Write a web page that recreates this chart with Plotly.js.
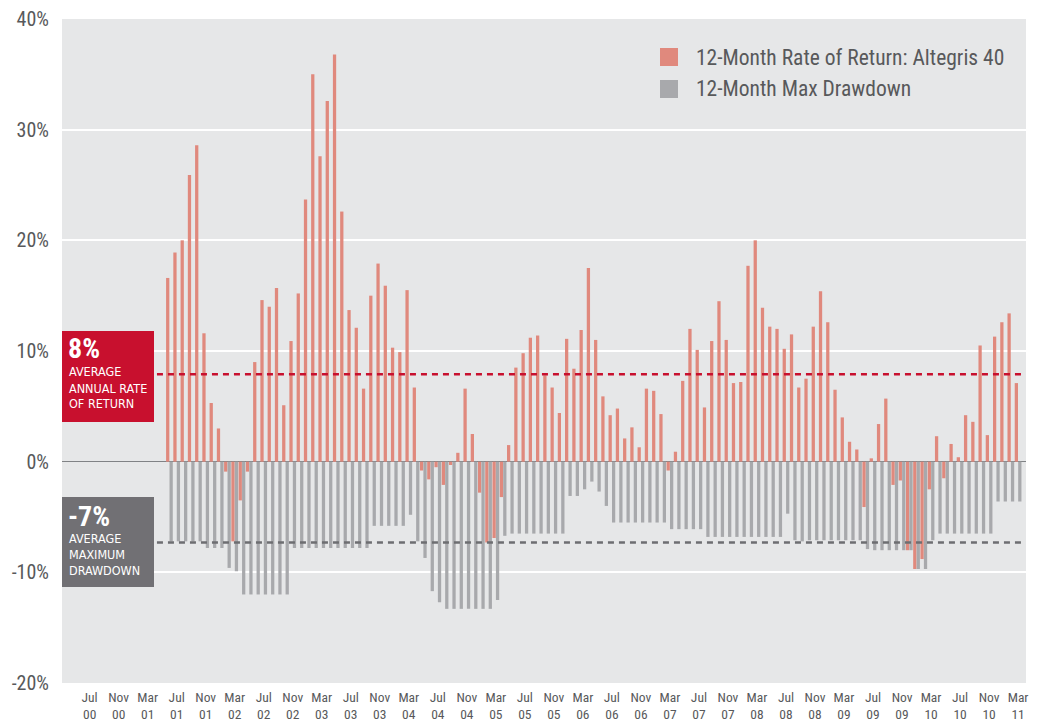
<!DOCTYPE html>
<html>
<head>
<meta charset="utf-8">
<script src="https://cdn.plot.ly/plotly-3.0.1.min.js"></script>
<style>
html,body{margin:0;padding:0;background:#ffffff;}
#chart{width:1038px;height:721px;}
</style>
</head>
<body>
<div id="chart"></div>
<script>
// 12-month values, one per month from Jun 01 to Mar 11
var firstMonthIndex = 11; // months after Jul 00
var returns12m = [
16.6,18.9,20.0,25.9,28.6,11.6,5.3,3.0,-0.9,-7.2,-3.5,-0.9,
9.0,14.6,14.0,15.7,5.1,10.9,15.2,23.7,35.0,27.6,32.6,36.8,
22.6,13.7,12.1,6.6,15.0,17.9,15.9,10.3,9.9,15.5,6.7,-0.8,
-1.6,-0.5,-2.1,-0.3,0.8,6.6,2.5,-2.8,-7.3,-6.9,-3.2,1.5,
8.5,9.8,11.2,11.4,7.8,6.7,4.4,11.1,8.4,11.9,17.5,11.0,
5.9,4.2,4.8,2.1,3.1,1.3,6.6,6.4,4.3,-0.8,0.9,7.3,
12.0,10.1,4.9,10.9,14.5,11.0,7.1,7.2,17.7,20.0,13.9,12.2,
12.0,10.2,11.5,6.7,7.5,12.2,15.4,12.6,6.5,4.0,1.8,1.1,
-4.1,0.3,3.4,5.7,-2.1,-1.7,-8.0,-9.7,-8.8,-2.5,2.3,-1.5,
1.6,0.4,4.2,3.6,10.5,2.4,11.3,12.6,13.4,7.1
];
var maxDrawdown12m = [
-7.2,-7.2,-7.2,-7.2,-7.2,-7.8,-7.8,-7.8,-9.6,-9.9,-12.0,-12.0,
-12.0,-12.0,-12.0,-12.0,-12.0,-7.8,-7.8,-7.8,-7.8,-7.8,-7.8,-7.8,
-7.8,-7.8,-7.8,-7.8,-5.8,-5.8,-5.8,-5.8,-5.8,-4.8,-7.2,-8.7,
-11.7,-12.7,-13.3,-13.3,-13.3,-13.3,-13.3,-13.3,-13.3,-12.5,-6.7,-6.5,
-6.5,-6.5,-6.5,-6.5,-6.5,-6.5,-6.5,-3.1,-3.1,-2.5,-1.8,-2.7,
-4.0,-5.5,-5.5,-5.5,-5.5,-5.5,-5.5,-5.5,-5.5,-6.1,-6.1,-6.1,
-6.1,-6.1,-6.8,-6.8,-6.8,-6.8,-6.8,-6.8,-6.8,-6.8,-6.8,-6.8,
-6.8,-4.7,-7.1,-7.2,-7.1,-7.1,-7.1,-7.1,-7.1,-7.1,-7.1,-7.1,
-7.9,-8.0,-8.0,-8.0,-8.0,-8.0,-8.0,-9.7,-9.7,-7.1,-6.5,-6.5,
-6.5,-6.5,-6.5,-6.5,-6.5,-6.5,-3.6,-3.6,-3.6,-3.6
];
var avgReturn = 7.9;
var avgDrawdown = -7.3;
var tickLabels = [
'Jul<br>00','Nov<br>00','Mar<br>01','Jul<br>01','Nov<br>01','Mar<br>02','Jul<br>02','Nov<br>02',
'Mar<br>03','Jul<br>03','Nov<br>03','Mar<br>04','Jul<br>04','Nov<br>04','Mar<br>05','Jul<br>05',
'Nov<br>05','Mar<br>06','Jul<br>06','Nov<br>06','Mar<br>07','Jul<br>07','Nov<br>07','Mar<br>08',
'Jul<br>08','Nov<br>08','Mar<br>09','Jul<br>09','Nov<br>09','Mar<br>10','Jul<br>10','Nov<br>10','Mar<br>11'
];
var yTicks = [-20,-10,0,10,20,30,40];
var yTickLabels = ['-20%','-10%','0%','10%','20%','30%','40%'];
var seriesNames = ['12-Month Rate of Return: Altegris 40','12-Month Max Drawdown'];
var seriesColors = ['#E0897D','#A8A9AC'];

var xs = returns12m.map(function(_, i){ return firstMonthIndex + i; });
var tickVals = tickLabels.map(function(_, i){ return i * 4; });

var FONT = 'Liberation Sans Narrow, Roboto Condensed, DejaVu Sans Condensed, Arial Narrow, sans-serif';
var BOXFONT = 'DejaVu Sans Condensed, DejaVu Sans, sans-serif';
var TXT = '#58595B';

// pixel helpers for decorations (plot area 62..1026 x 19..683)
function px(xp){ return (xp - 62) / 964; }
function py(yp){ return (683 - yp) / 664; }

var traces = [
  {type:'bar', x: xs, y: returns12m, name: seriesNames[0],
   marker:{color:seriesColors[0]}, hoverinfo:'skip'},
  {type:'bar', x: xs, y: maxDrawdown12m, name: seriesNames[1],
   marker:{color:seriesColors[1]}, hoverinfo:'skip'}
];

var ann = [];
function txt(t, xp, yp, size, bold, fam){
  ann.push({text: bold ? '<b>'+t+'</b>' : t, xref:'paper', yref:'paper', x:px(xp), y:py(yp),
    xanchor:'left', yanchor:'middle', showarrow:false,
    font:{family: fam, size:size, color:'#ffffff'}});
}
txt('8%', 66, 348, 28, true, FONT);
txt('AVERAGE', 67, 372, 12.5, false, BOXFONT);
txt('ANNUAL RATE', 67, 388, 12.5, false, BOXFONT);
txt('OF RETURN', 67, 403, 12.5, false, BOXFONT);
txt('-7%', 66, 516, 28, true, FONT);
txt('AVERAGE', 67, 538, 12.5, false, BOXFONT);
txt('MAXIMUM', 67, 554, 12.5, false, BOXFONT);
txt('DRAWDOWN', 67, 570, 12.5, false, BOXFONT);

// legend (drawn as squares + text)
var legendRows = [57, 89];
var legendShapes = [];
seriesNames.forEach(function(n, i){
  var cy = legendRows[i];
  legendShapes.push({type:'rect', xref:'paper', yref:'paper', x0:px(660), x1:px(678),
    y0:py(cy+9), y1:py(cy-9), fillcolor:seriesColors[i], line:{width:0}, layer:'above'});
  ann.push({text:n, xref:'paper', yref:'paper', x:px(694), y:py(cy), xanchor:'left', yanchor:'middle',
    showarrow:false, font:{family:FONT, size:21.5, color:TXT}});
});

var layout = {
  width:1038, height:721,
  margin:{l:62, r:12, t:19, b:38, pad:0},
  paper_bgcolor:'#ffffff', plot_bgcolor:'#E6E7E8',
  barmode:'group', bargap:0.05, bargroupgap:0.05,
  font:{family: FONT, color: TXT},
  showlegend:false,
  xaxis:{range:[-3.81, 129.09], tickmode:'array', tickvals: tickVals, ticktext: tickLabels,
    showgrid:false, zeroline:false, showline:false, ticks:'', ticklabelstandoff:4,
    tickfont:{family:FONT, size:13.5, color:TXT}, fixedrange:true},
  yaxis:{range:[-20, 40], tickmode:'array', tickvals:yTicks, ticktext:yTickLabels,
    showgrid:true, gridcolor:'#ffffff', gridwidth:2,
    zeroline:true, zerolinecolor:'#808285', zerolinewidth:1.5,
    showline:false, ticks:'', ticklabelstandoff:12,
    tickfont:{family:FONT, size:20, color:TXT}, fixedrange:true},
  shapes:[
    {type:'rect', xref:'paper', yref:'paper', x0:0, x1:px(154), y0:py(422), y1:py(331),
     fillcolor:'#C8102E', line:{width:0}, layer:'above'},
    {type:'rect', xref:'paper', yref:'paper', x0:0, x1:px(154), y0:py(587), y1:py(497),
     fillcolor:'#717074', line:{width:0}, layer:'above'},
    {type:'line', xref:'x', yref:'y', x0:9.28, x1:128.6, y0:avgReturn, y1:avgReturn,
     line:{color:'#C8102E', width:2.5, dash:'6px,5px'}, layer:'above'},
    {type:'line', xref:'x', yref:'y', x0:9.28, x1:128.6, y0:avgDrawdown, y1:avgDrawdown,
     line:{color:'#6D6E71', width:2.5, dash:'6px,5px'}, layer:'above'}
  ].concat(legendShapes),
  annotations: ann
};

Plotly.newPlot('chart', traces, layout, {displayModeBar:false, staticPlot:true});
</script>
</body>
</html>
